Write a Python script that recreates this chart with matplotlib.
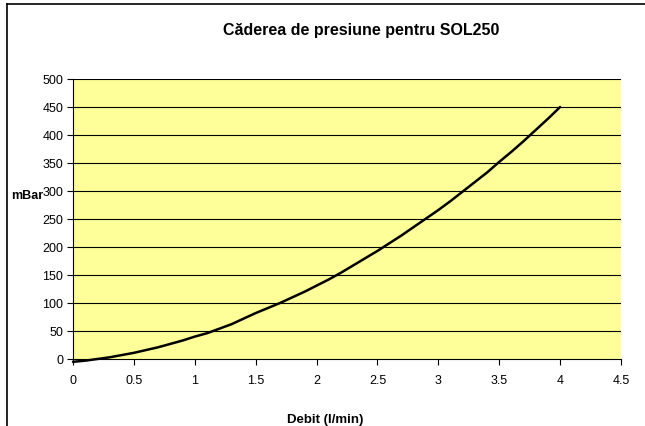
import matplotlib
matplotlib.use("Agg")
import matplotlib.pyplot as plt
from matplotlib.lines import Line2D

plt.rcParams['font.family'] = ['Liberation Sans', 'DejaVu Sans']

# Data
debit = [0.0, 0.1, 0.2, 0.3, 0.4, 0.5, 0.6, 0.7, 0.8, 0.9,
         1.0, 1.1, 1.2, 1.3, 1.4, 1.5, 1.6, 1.7, 1.8, 1.9,
         2.0, 2.1, 2.2, 2.3, 2.4, 2.5, 2.6, 2.7, 2.8, 2.9,
         3.0, 3.1, 3.2, 3.3, 3.4, 3.5, 3.6, 3.7, 3.8, 3.9, 4.0]
presiune = [-5, -3, 0, 3, 7, 11, 16, 21, 27, 33,
            40, 46, 54, 62, 72, 82, 91, 100, 110, 120,
            131, 142, 154, 167, 180, 193, 207, 221, 236, 251,
            266, 282, 299, 316, 333, 352, 370, 389, 409, 429, 450]
x_ticks = [0, 0.5, 1, 1.5, 2, 2.5, 3, 3.5, 4, 4.5]
x_tick_labels = ['0', '0.5', '1', '1.5', '2', '2.5', '3', '3.5', '4', '4.5']
y_ticks = [0, 50, 100, 150, 200, 250, 300, 350, 400, 450, 500]

title = 'Căderea de presiune pentru SOL250'
xlabel = 'Debit (l/min)'
ylabel = 'mBar'

W, H = 645, 427
fig = plt.figure(figsize=(W / 100, H / 100), dpi=100)
fig.patch.set_facecolor('white')

left, right, top, bottom = 73, 621, 80, 360
ax = fig.add_axes([left / W, (H - bottom) / H, (right - left) / W, (bottom - top) / H])
ax.set_facecolor('#FFFF99')

ax.plot(debit, presiune, color='black', linewidth=1.8, solid_capstyle='round',
        zorder=3, clip_on=False)

ax.set_xlim(0, 4.5)
ax.set_ylim(0, 500)
ax.set_xticks(x_ticks)
ax.set_xticklabels(x_tick_labels)
ax.set_yticks(y_ticks)

for yv in y_ticks[1:]:
    ax.axhline(yv, color='black', linewidth=0.8, zorder=1)

for s in ['top', 'right']:
    ax.spines[s].set_visible(False)
for s in ['left', 'bottom']:
    ax.spines[s].set_color('black')
    ax.spines[s].set_linewidth(0.8)

ax.tick_params(axis='y', direction='out', length=4, width=0.8, pad=3, labelsize=9, colors='black')
ax.tick_params(axis='x', direction='out', length=4, width=0.8, pad=7, labelsize=9, colors='black')

fig.text(361 / W, 1 - 30 / H, title, ha='center', va='center', fontsize=11.5, fontweight='bold')
fig.text(325 / W, 1 - 420 / H, xlabel, ha='center', va='center', fontsize=9.5, fontweight='bold')
fig.text(11 / W, 1 - 196 / H, ylabel, ha='left', va='center', fontsize=9, fontweight='bold', zorder=5)

# outer chart border (only left and top visible in the reference)
fig.add_artist(Line2D([7 / W, 7 / W], [0, 1 - 5 / H], transform=fig.transFigure, color='black', linewidth=1.2))
fig.add_artist(Line2D([7 / W, 1], [1 - 5 / H, 1 - 5 / H], transform=fig.transFigure, color='black', linewidth=1.2))

fig.savefig('out.png', dpi=100)
